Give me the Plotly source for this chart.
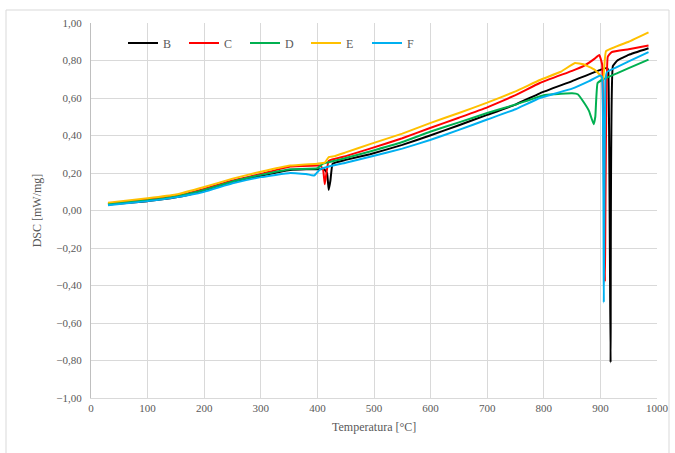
import plotly.graph_objects as go

# ---- data ----
T_B = [30, 100, 150, 200, 250, 300, 352, 380, 400, 412, 417, 420, 423, 427, 450, 493, 550, 599, 650, 700, 750, 793, 850, 900, 912, 914, 918, 922, 930, 950, 985]
Y_B = [0.032, 0.05, 0.07, 0.105, 0.15, 0.185, 0.216, 0.22, 0.22, 0.22, 0.20, 0.11, 0.16, 0.25, 0.27, 0.30, 0.35, 0.40, 0.455, 0.51, 0.565, 0.625, 0.69, 0.75, 0.76, 0.74, -0.81, 0.77, 0.80, 0.83, 0.865]

T_C = [30, 100, 150, 200, 250, 300, 352, 400, 405, 410, 413, 416, 420, 450, 493, 550, 599, 650, 700, 750, 793, 850, 870, 890, 898, 903, 908, 913, 920, 950, 985]
Y_C = [0.038, 0.06, 0.078, 0.115, 0.16, 0.195, 0.234, 0.24, 0.24, 0.22, 0.14, 0.20, 0.265, 0.29, 0.33, 0.385, 0.44, 0.495, 0.55, 0.615, 0.68, 0.745, 0.77, 0.81, 0.83, 0.78, -0.38, 0.82, 0.845, 0.86, 0.88]

T_D = [30, 100, 150, 200, 250, 300, 352, 400, 410, 430, 450, 493, 550, 599, 650, 700, 750, 800, 820, 850, 860, 870, 880, 888, 891, 895, 905, 930, 950, 985]
Y_D = [0.035, 0.055, 0.075, 0.11, 0.155, 0.19, 0.22, 0.225, 0.25, 0.265, 0.28, 0.315, 0.365, 0.42, 0.47, 0.52, 0.565, 0.615, 0.62, 0.625, 0.62, 0.58, 0.53, 0.46, 0.50, 0.68, 0.70, 0.733, 0.759, 0.805]

T_E = [30, 100, 150, 200, 250, 300, 352, 400, 413, 420, 430, 450, 493, 550, 599, 650, 700, 750, 793, 830, 855, 870, 890, 900, 905, 910, 950, 985]
Y_E = [0.042, 0.065, 0.085, 0.125, 0.17, 0.207, 0.24, 0.25, 0.255, 0.285, 0.29, 0.31, 0.354, 0.41, 0.466, 0.52, 0.575, 0.635, 0.696, 0.74, 0.787, 0.78, 0.75, 0.72, 0.70, 0.85, 0.90, 0.95]

T_F = [30, 100, 150, 200, 250, 300, 352, 380, 390, 395, 405, 420, 450, 493, 550, 599, 650, 700, 750, 793, 850, 880, 900, 903, 906, 909, 912, 930, 950, 985]
Y_F = [0.028, 0.05, 0.07, 0.10, 0.145, 0.178, 0.2, 0.195, 0.188, 0.188, 0.22, 0.235, 0.255, 0.287, 0.33, 0.376, 0.43, 0.485, 0.54, 0.60, 0.65, 0.69, 0.72, 0.71, -0.49, 0.70, 0.74, 0.766, 0.795, 0.845]

SERIES = [("B", T_B, Y_B, "#000000"), ("C", T_C, Y_C, "#FF0000"), ("D", T_D, Y_D, "#00B050"),
          ("E", T_E, Y_E, "#FFC000"), ("F", T_F, Y_F, "#00B0F0")]

X_TICKS = list(range(0, 1001, 100))
Y_TICKS = [-1.0, -0.8, -0.6, -0.4, -0.2, 0.0, 0.2, 0.4, 0.6, 0.8, 1.0]

W, H = 675, 453
ML, MR, MT, MB = 91, 18, 23, 55
PW, PH = W - ML - MR, H - MT - MB

def px_x(px):
    return (px - ML) / PW

def px_y(py):
    return (H - MB - py) / PH

FONT = "Liberation Serif, Times New Roman, DejaVu Serif, serif"

fig = go.Figure()
for name, t, y, c in SERIES:
    fig.add_trace(go.Scatter(x=t, y=y, name=name, mode="lines",
                             line=dict(color=c, width=2, shape="spline", smoothing=0.3)))

grey = "#595959"
fig.update_layout(
    width=W, height=H,
    margin=dict(l=ML, r=MR, t=MT, b=MB, autoexpand=False),
    paper_bgcolor="white", plot_bgcolor="white",
    font=dict(family=FONT, size=11, color=grey),
    separators=", ",
    showlegend=True,
    legend=dict(orientation="h", x=px_x(123), y=px_y(43), xanchor="left", yanchor="middle",
                bgcolor="rgba(0,0,0,0)", font=dict(family=FONT, size=12, color=grey),
                entrywidth=16, entrywidthmode="pixels", itemwidth=30, tracegroupgap=0),
    xaxis=dict(range=[0, 1000], tickvals=X_TICKS, showgrid=True, gridcolor="#D9D9D9", gridwidth=1,
               zeroline=False, showline=True, linecolor="#D9D9D9", ticks="", automargin=False,
               tickfont=dict(family=FONT, size=11)),
    yaxis=dict(range=[-1, 1], tickvals=Y_TICKS, tickformat=".2f", showgrid=True, gridcolor="#D9D9D9",
               gridwidth=1, zeroline=False, showline=True, linecolor="#BFBFBF", ticks="", automargin=False,
               tickfont=dict(family=FONT, size=11), ticklabelstandoff=6,
               title=dict(text="DSC [mW/mg]", font=dict(family=FONT, size=12, color=grey), standoff=12)),
    annotations=[dict(text="Temperatura [°C]", x=500, xref="x", y=px_y(427), yref="paper",
                      showarrow=False, font=dict(family=FONT, size=12, color=grey),
                      xanchor="center", yanchor="middle")],
    shapes=[dict(type="rect", xref="paper", yref="paper", x0=px_x(6), x1=px_x(669), y0=px_y(470), y1=px_y(10),
                 line=dict(color="#D9D9D9", width=1), fillcolor="rgba(0,0,0,0)", layer="below")],
)

fig.write_html("out.html")
